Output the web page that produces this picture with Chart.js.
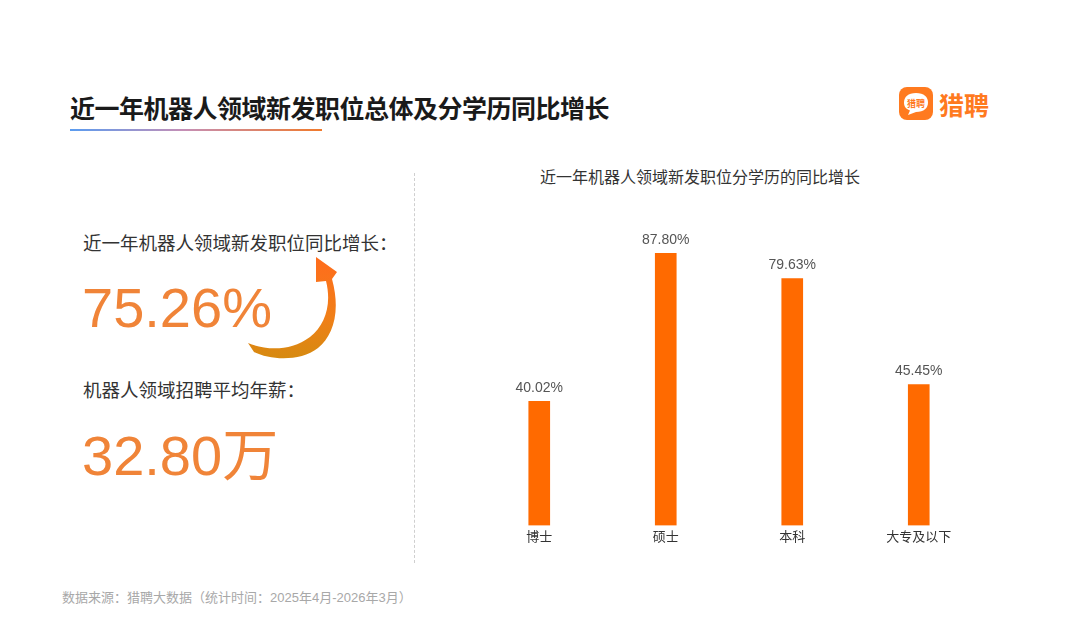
<!DOCTYPE html>
<html>
<head>
<meta charset="utf-8">
<script src="https://cdn.jsdelivr.net/npm/chart.js@4/dist/chart.umd.min.js"></script>
<style>
  html, body { margin: 0; padding: 0; background: #fff; }
  body { width: 1080px; height: 637px; position: relative; overflow: hidden;
         font-family: "Liberation Sans", "Noto Sans CJK SC", sans-serif; }
  .abs { position: absolute; white-space: nowrap; }
  #title { left: 70px; top: 89px; font-size: 25px; font-weight: bold; color: #1a1a1a;
           font-family: "Noto Sans CJK SC", sans-serif; letter-spacing: -0.5px; }
  #underline { left: 70px; top: 129px; width: 252px; height: 2px;
               background: linear-gradient(to right, #5a9cf0, #c58fb6 45%, #f07a2c); }
  .label { left: 83px; font-size: 18.5px; color: #333; font-family: "Noto Sans CJK SC", sans-serif; }
  .big { left: 82px; font-size: 56px; color: #f08438; line-height: 1; }
  #divider { left: 414px; top: 173px; height: 390px; border-left: 1.5px dashed #cfcfcf; }
  #chartTitle { left: 540px; top: 164px; font-size: 16px; color: #333;
                font-family: "Noto Sans CJK SC", sans-serif; }
  #source { left: 62px; top: 587px; font-size: 13px; color: #a8a8a8; }
  #logoBox { left: 899px; top: 87px; width: 34px; height: 33px; border-radius: 8px; background: #ff7a1f; }
  #logoText { left: 939px; top: 86px; font-size: 25px; font-weight: bold; color: #ff7a1f;
              font-family: "Noto Sans CJK SC", sans-serif; }
  #chartWrap { position: absolute; left: 476px; top: 200px; width: 506px; height: 347px; }
</style>
</head>
<body>
<div id="title" class="abs">近一年机器人领域新发职位总体及分学历同比增长</div>
<div id="underline" class="abs"></div>

<div id="logoBox" class="abs">
  <svg width="34" height="33" viewBox="0 0 34 33">
    <path d="M17 6 C25 6 29 10 29 15.5 C29 21 25 25 17 25 L9 28 L11 23.5 C6.5 22 5 19 5 15.5 C5 10 9 6 17 6 Z" fill="#fff"/>
    <text x="17" y="19.5" text-anchor="middle" font-size="9" font-weight="bold" fill="#ff7a1f"
          font-family="Noto Sans CJK SC">猎聘</text>
  </svg>
</div>
<div id="logoText" class="abs">猎聘</div>

<div class="abs label" style="top:229px">近一年机器人领域新发职位同比增长：</div>
<div class="abs big" style="top:280px">75.26%</div>
<svg class="abs" style="left:0;top:0" width="420" height="420">
  <defs>
    <linearGradient id="arrowGrad" x1="0" y1="0" x2="0" y2="1">
      <stop offset="0" stop-color="#ff6c1c"/>
      <stop offset="0.6" stop-color="#f07f18"/>
      <stop offset="1" stop-color="#d68a10"/>
    </linearGradient>
  </defs>
  <path d="M254 352 C270 360 300 362 318 348 C333 336 341 312 332 279
           L337 272 L316 257 L316 282 L326 281
           C332 305 325 325 310 337 C290 352 265 350 248 343 Z" fill="url(#arrowGrad)"/>
</svg>
<div class="abs label" style="top:376px">机器人领域招聘平均年薪：</div>
<div class="abs big" style="top:428px">32.80万</div>

<div id="divider" class="abs"></div>
<div id="chartTitle" class="abs">近一年机器人领域新发职位分学历的同比增长</div>
<div id="chartWrap"><canvas id="eduChart"></canvas></div>

<div id="source" class="abs">数据来源：猎聘大数据（统计时间：2025年4月-2026年3月）</div>

<script>
const categories = ['博士', '硕士', '本科', '大专及以下'];
const growthRates = [40.02, 87.80, 79.63, 45.45];

const valueLabels = {
  id: 'valueLabels',
  afterDatasetsDraw(chart) {
    const ctx = chart.ctx;
    const meta = chart.getDatasetMeta(0);
    ctx.save();
    ctx.font = '14px "Liberation Sans", Arial, sans-serif';
    ctx.fillStyle = '#555';
    ctx.textAlign = 'center';
    ctx.textBaseline = 'bottom';
    meta.data.forEach((bar, i) => {
      ctx.fillText(growthRates[i].toFixed(2) + '%', bar.x, bar.y - 6);
    });
    ctx.restore();
  }
};

const ctx = document.getElementById('eduChart').getContext('2d');
new Chart(ctx, {
  type: 'bar',
  data: {
    labels: categories,
    datasets: [{
      data: growthRates,
      backgroundColor: '#ff6a00',
      barThickness: 21,
    }],
  },
  options: {
    responsive: true,
    maintainAspectRatio: false,
    animation: false,
    layout: { padding: { top: 15.5, left: 0, right: 0, bottom: 0 } },
    plugins: { legend: { display: false }, tooltip: { enabled: false } },
    scales: {
      x: {
        grid: { display: false, drawTicks: false },
        border: { display: false },
        ticks: {
          color: '#333',
          padding: 3,
          font: { size: 13, family: '"Noto Sans CJK SC", sans-serif' },
        },
      },
      y: {
        display: false,
        min: 0,
        max: 100,
      },
    },
  },
  plugins: [valueLabels],
});
</script>
</body>
</html>
